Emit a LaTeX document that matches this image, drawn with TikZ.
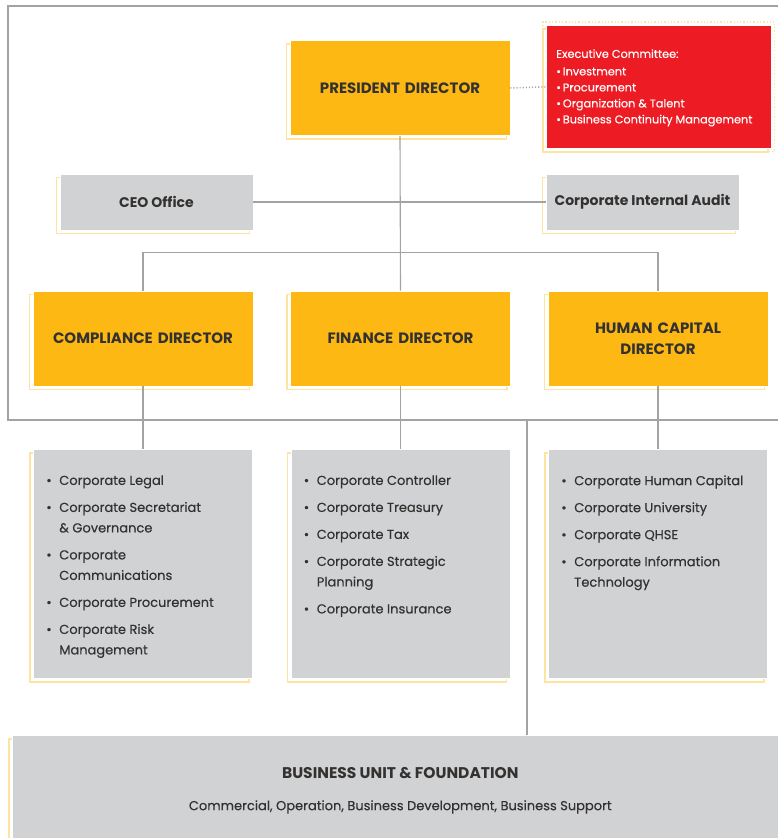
\documentclass[tikz,border=0pt]{standalone}
\usepackage{fontspec}
\setmainfont{Poppins}
\newfontfamily\medfont[FakeBold=0.35]{Poppins}
\usetikzlibrary{positioning,shadows}

\definecolor{gold}{HTML}{FDB813}
\definecolor{silver}{HTML}{D1D2D4}
\definecolor{crimson}{HTML}{ED1C24}
\definecolor{cream}{HTML}{FFE3A0}
\definecolor{ink}{HTML}{333230}
\definecolor{wire}{HTML}{A3A3A3}

% bullet entry with hanging indent
\newcommand\unititem[1]{\par\hangindent=13pt\hangafter=1\noindent
  \makebox[13pt][l]{\textbullet}#1}
\newcommand\unitlist[1]{\parbox[t][200pt][t]{193.4pt}{\vspace*{5pt}\raggedright
  \medfont\fontsize{13}{20.5}\selectfont\setlength{\parskip}{6.5pt}#1}}

\tikzset{
  box/.style={draw=white, line width=0.6pt, text=ink, align=center,
    general shadow={shadow xshift=-3.5pt, shadow yshift=-3.5pt,
      fill=white, draw=cream, line width=1.5pt}},
  director/.style={box, fill=gold, minimum width=220pt, minimum height=95pt,
    text width=210pt, font=\bfseries\fontsize{15}{21}\selectfont},
  office/.style={box, fill=silver, minimum width=193pt, minimum height=56pt,
    font=\bfseries\fontsize{14}{15}\selectfont},
  unitbox/.style={box, fill=silver, anchor=north west, inner xsep=13pt,
    inner ysep=14.5pt, align=left},
  wire/.style={draw=wire, line width=1.1pt},
}

\begin{document}
\begin{tikzpicture}[x=1pt,y=-1pt]
  \useasboundingbox (0,0) rectangle (778,838);
  \fill[white] (0,0) rectangle (778,838);
  % Outer frame of the board level
  \draw[wire, line width=1.4pt] (790,6) -- (8,6) -- (8,420) -- (790,420);
  \coordinate (tap) at (527,420);

  % Top level
  \node[director] (pres) at (400,88) {PRESIDENT DIRECTOR};
  \node[box, fill=crimson, anchor=north west, text=white, align=left,
    minimum width=220pt, minimum height=123pt, inner xsep=10pt, inner ysep=14pt,
    general shadow={fill=none, draw=none}] (exco) at (546,25)
    {\parbox[t][95pt][t]{205pt}{\vspace*{10pt}\medfont\fontsize{11.3}{16}\selectfont
      Executive Committee:\\[1.5pt]
      \textbullet\,Investment\\
      \textbullet\,Procurement\\
      \textbullet\,Organization \& Talent\\
      \textbullet\,Business Continuity Management}};
  \draw[cream, dotted, line width=1.3pt]
    ([shift={(-3,3)}]exco.south west) rectangle ([shift={(3,-3)}]exco.north east);

  % Staff offices
  \node[office] (ceo) at (156.5,202) {CEO Office};
  \node[office] (audit) at (642.5,202) {Corporate Internal Audit};

  % Directors
  \node[director] (comp) at (143,338.5) {COMPLIANCE DIRECTOR};
  \node[director] (fin) at (400.5,338.5) {FINANCE DIRECTOR};
  \node[director] (hc) at (658,338.5) {HUMAN CAPITAL\\DIRECTOR};

  % Units under each director
  \node[unitbox] (complist) at (33,449) {\unitlist{%
    \unititem{Corporate Legal}
    \unititem{Corporate Secretariat\break\& Governance}
    \unititem{Corporate\break Communications}
    \unititem{Corporate Procurement}
    \unititem{Corporate Risk\break Management}}};
  \node[unitbox] (finlist) at (290.5,449) {\unitlist{%
    \unititem{Corporate Controller}
    \unititem{Corporate Treasury}
    \unititem{Corporate Tax}
    \unititem{Corporate Strategic\break Planning}
    \unititem{Corporate Insurance}}};
  \node[unitbox] (hclist) at (548,449) {\unitlist{%
    \unititem{Corporate Human Capital}
    \unititem{Corporate University}
    \unititem{Corporate QHSE}
    \unititem{Corporate Information\break Technology}}};

  % Business units
  \node[box, fill=silver, anchor=north west, minimum width=776pt,
    minimum height=110pt] (bu) at (12,735)
    {{\bfseries\fontsize{15.5}{15}\selectfont BUSINESS UNIT \& FOUNDATION}\\[20pt]
     {\medfont\fontsize{13}{13}\selectfont Commercial, Operation, Business Development, Business Support}};

  % Reporting lines
  \draw[wire] (pres.south) -- (fin.north);
  \draw[wire] (ceo.east) -- (audit.west);
  \draw[wire] (comp.north) -- ++(0,-38) -| (hc.north);
  \draw[wire, dotted, line width=1.5pt] (pres.east) -- (exco.west);
  \draw[wire] (comp.south) -- (complist.north -| comp.south);
  \draw[wire] (fin.south) -- (finlist.north -| fin.south);
  \draw[wire] (hc.south) -- (hclist.north -| hc.south);
  \draw[wire] (tap) -- (tap |- bu.north);
\end{tikzpicture}
\end{document}
